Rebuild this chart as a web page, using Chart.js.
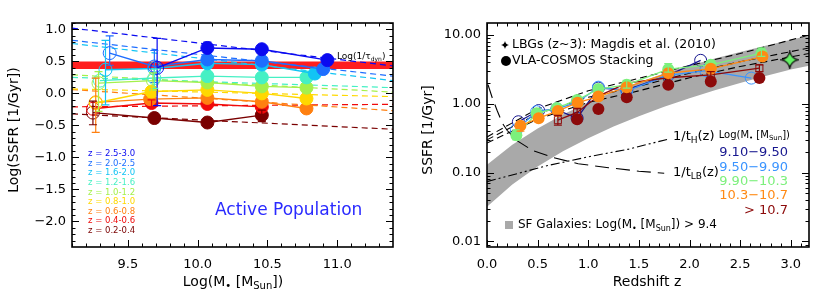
<!DOCTYPE html>
<html>
<head>
<meta charset="utf-8">
<script src="https://cdn.jsdelivr.net/npm/chart.js@4.4.1/dist/chart.umd.min.js"></script>
<style>
  html, body { margin: 0; padding: 0; background: #fff; }
  #wrap { position: relative; width: 830px; height: 294px; }
  .panel { position: absolute; top: 0; width: 415px; height: 294px; }
</style>
</head>
<body>
<div id="wrap">
  <div class="panel" style="left:0"><canvas id="left" width="415" height="294"></canvas></div>
  <div class="panel" style="left:415px"><canvas id="right" width="415" height="294"></canvas></div>
</div>
<script>
const FONT = "'DejaVu Sans', sans-serif";

// ---------------------------------------------------------------------------
// Left panel: Log SSFR vs Log stellar mass, one series per redshift bin
// (index 0 = highest redshift)
// ---------------------------------------------------------------------------
const Z_LABELS = ['z = 2.5-3.0', 'z = 2.0-2.5', 'z = 1.6-2.0', 'z = 1.2-1.6', 'z = 1.0-1.2',
                  'z = 0.8-1.0', 'z = 0.6-0.8', 'z = 0.4-0.6', 'z = 0.2-0.4'];
const Z_COLORS = ['#0a0af0', '#1e6eff', '#12c4f4', '#46f0c4', '#a4f04c',
                  '#ffd800', '#ff8010', '#f00a0a', '#7a0000'];

const LOGM = [
  [9.71, 10.07, 10.46, 10.93],
  [9.37, 9.69, 10.07, 10.46, 10.90],
  [9.34, 9.69, 10.07, 10.46, 10.84],
  [9.30, 9.69, 10.07, 10.46, 10.78],
  [9.29, 9.68, 10.07, 10.46, 10.78],
  [9.27, 9.67, 10.07, 10.46, 10.78],
  [9.27, 9.66, 10.07, 10.46, 10.78],
  [9.25, 9.67, 10.07, 10.46],
  [9.25, 9.69, 10.07, 10.46],
];
const LOG_SSFR = [
  [0.40, 0.71, 0.69, 0.52],
  [0.63, 0.42, 0.53, 0.51, 0.38],
  [0.37, 0.39, 0.47, 0.45, 0.31],
  [0.20, 0.24, 0.27, 0.25, 0.25],
  [0.16, 0.20, 0.17, 0.11, 0.09],
  [-0.15, 0.03, 0.055, 0.0, -0.08],
  [-0.14, -0.09, -0.07, -0.13, -0.235],
  [-0.24, -0.15, -0.165, -0.21],
  [-0.30, -0.385, -0.455, -0.34],
];
// how many of the low-mass points in each bin are drawn as open circles
const OPEN_UPTO = [1, 2, 2, 2, 2, 1, 1, 1, 1];

// dashed fits: value at the left and right end of the mass range
const FIT_LOW  = [1.02, 0.83, 0.78, 0.25, 0.29, 0.07, 0.06, -0.21, -0.32];
const FIT_HIGH = [0.43, 0.27, 0.20, 0.09, 0.02, -0.05, -0.27, -0.17, -0.56];

// error bars: [bin, logM, low, high]
const ERR_LEFT = [
  [0, 9.71, -0.19, 0.86], [0, 10.07, 0.64, 0.80],
  [1, 9.37, 0.44, 0.90], [1, 9.69, 0.17, 0.67],
  [2, 9.34, -0.18, 0.83],
  [3, 9.69, 0.08, 0.38],
  [4, 9.29, -0.28, 0.34], [4, 9.68, 0.05, 0.32],
  [5, 9.67, -0.06, 0.10],
  [6, 9.27, -0.61, 0.24],
  [7, 9.67, -0.22, -0.10],
  [8, 9.25, -0.49, -0.12], [8, 10.46, -0.44, -0.26],
];

// Log(1/tau_dyn) band
const TAU_DYN = [0.38, 0.50];

const X_RANGE_L = [9.1, 11.4];
const Y_RANGE_L = [-2.4, 1.1];
const X_MAJOR_L = [9.5, 10.0, 10.5, 11.0];
const Y_MAJOR_L = [-2.0, -1.5, -1.0, -0.5, 0.0, 0.5, 1.0];

// ---------------------------------------------------------------------------
// Right panel: SSFR vs redshift, one series per mass bin
// ---------------------------------------------------------------------------
const MASS_LABELS = ['9.10\u22129.50', '9.50\u22129.90', '9.90\u221210.3', '10.3\u221210.7', '> 10.7'];
const MASS_COLORS = ['#17178f', '#3a94ff', '#7cf07c', '#ff8a14', '#8c0a0a'];

const Z_NAVY    = [0.31, 0.51, 0.69, 0.89, 1.10, 1.38, 1.79, 2.11];
const SSFR_NAVY = [0.55, 0.80, 0.82, 0.62, 1.70, 1.60, 2.60, 4.30];
const Z_AZURE    = [0.29, 0.49, 0.69, 0.89, 1.10, 1.38, 1.79, 2.16, 2.61];
const SSFR_AZURE = [0.42, 0.77, 0.85, 1.05, 1.75, 1.55, 2.60, 3.05, 2.37];
const Z_GREEN    = [0.29, 0.49, 0.69, 0.89, 1.10, 1.38, 1.79, 2.21, 2.71];
const SSFR_GREEN = [0.35, 0.73, 0.87, 1.14, 1.64, 1.89, 3.20, 3.70, 5.47];
const Z_ORANGE    = [0.33, 0.51, 0.70, 0.895, 1.10, 1.38, 1.79, 2.21, 2.72];
const SSFR_ORANGE = [0.48, 0.62, 0.79, 1.04, 1.28, 1.75, 2.80, 3.23, 4.88];
const Z_DKRED    = [0.89, 1.10, 1.38, 1.79, 2.21, 2.69];
const SSFR_DKRED = [0.60, 0.84, 1.25, 1.89, 2.11, 2.37];
const Z_DKRED_SQ    = [0.70, 0.89, 1.10, 1.38, 1.79, 2.21, 2.69];
const SSFR_DKRED_SQ = [0.58, 0.75, 1.30, 2.00, 2.40, 2.64, 3.30];
const SQ_SHOWN      = [1, 1, 0, 0, 0, 1, 1];

const LBG_Z = [2.99];
const LBG_SSFR = [4.37];

// SF galaxies band (Log M > 9.4)
const BAND_Z  = [0, 0.25, 0.5, 0.75, 1.0, 1.25, 1.5, 1.75, 2.0, 2.25, 2.5, 2.75, 3.0, 3.18];
const BAND_HI = [0.13, 0.255, 0.44, 0.70, 1.05, 1.5, 2.07, 2.76, 3.59, 4.58, 5.7, 7.0, 8.55, 9.8];
const BAND_LO = [0.032, 0.067, 0.123, 0.204, 0.317, 0.468, 0.663, 0.91, 1.21, 1.58, 2.02, 2.54, 3.15, 3.6];

// black dashed fits
const DASH_Z = [0, 0.5, 1.0, 1.5, 2.0, 2.5, 3.18];
const DASH_A = [0.33, 0.85, 1.55, 2.35, 3.6, 5.4, 10.0];
const DASH_B = [0.30, 0.72, 1.25, 1.80, 2.8, 4.1, 6.5];
const DASH_C = [0.27, 0.60, 1.05, 1.55, 2.4, 3.5, 5.4];

// 1/t_H(z) and 1/t_LB(z)
const TH_Z  = [0, 0.3, 0.6, 1.0, 1.4, 1.8];
const TH_V  = [0.074, 0.097, 0.127, 0.17, 0.22, 0.31];
const TLB_Z = [0.01, 0.05, 0.1, 0.15, 0.2, 0.3, 0.45, 0.66, 0.9, 1.2, 1.5, 1.75];
const TLB_V = [1.9, 1.25, 0.8, 0.53, 0.41, 0.29, 0.21, 0.165, 0.135, 0.118, 0.105, 0.098];

// error bars: [mass bin, z, low, high]
const ERR_RIGHT = [
  [2, 0.29, 0.30, 0.42], [3, 0.33, 0.40, 0.55],
  [2, 1.38, 1.70, 2.20], [2, 1.79, 2.90, 3.85], [2, 2.71, 4.90, 6.50],
  [4, 0.70, 0.49, 0.68], [4, 0.89, 0.66, 0.86], [4, 2.21, 2.35, 2.95], [4, 2.69, 2.95, 3.70],
];

const X_RANGE_R = [0, 3.18];
const Y_RANGE_R = [0.0083, 15];
const X_MAJOR_R = [0.0, 0.5, 1.0, 1.5, 2.0, 2.5, 3.0];
const Y_MAJOR_R = [0.01, 0.1, 1, 10];

// ---------------------------------------------------------------------------
// helpers
// ---------------------------------------------------------------------------
function steps(from, to, step) {
  const out = [];
  for (let v = from; v <= to + 1e-9; v += step) out.push(+v.toFixed(4));
  return out;
}

function logMinor(lo, hi) {
  const out = [];
  for (let k = -3; k <= 2; k++) {
    for (let m = 2; m <= 9; m++) {
      const v = m * Math.pow(10, k);
      if (v >= lo && v <= hi) out.push(v);
    }
  }
  return out;
}

const pts = (xs, ys) => xs.map((x, i) => ({ x, y: ys[i] }));
const CLEAR = 'rgba(255,255,255,0)';

// text with subscripts: parts = [[text, isSub], ...]
function richText(ctx, parts, x, y, size, color, align) {
  ctx.save();
  const fontFor = sub => `${sub ? Math.round(size * 0.68) : size}px ${FONT}`;
  let w = 0;
  parts.forEach(([t, sub]) => { ctx.font = fontFor(sub); w += ctx.measureText(t).width; });
  let cx = align === 'center' ? x - w / 2 : align === 'right' ? x - w : x;
  ctx.fillStyle = color;
  ctx.textBaseline = 'middle';
  ctx.textAlign = 'left';
  parts.forEach(([t, sub]) => {
    ctx.font = fontFor(sub);
    ctx.fillText(t, cx, y + (sub ? size * 0.3 : 0));
    cx += ctx.measureText(t).width;
  });
  ctx.restore();
}

function makeStar(size, fill, stroke) {
  const c = document.createElement('canvas');
  c.width = c.height = size;
  const g = c.getContext('2d');
  const m = size / 2, r = size / 2 - 1, k = size * 0.07;
  g.beginPath();
  g.moveTo(m, m - r);
  g.quadraticCurveTo(m + k, m - k, m + r, m);
  g.quadraticCurveTo(m + k, m + k, m, m + r);
  g.quadraticCurveTo(m - k, m + k, m - r, m);
  g.quadraticCurveTo(m - k, m - k, m, m - r);
  g.closePath();
  g.fillStyle = fill;
  g.fill();
  if (stroke) { g.lineWidth = 1.2; g.strokeStyle = stroke; g.stroke(); }
  return c;
}

// box frame with inward ticks on all four sides
const framePlugin = {
  id: 'frame',
  afterDatasetsDraw(chart, args, opts) {
    const { ctx, chartArea: a } = chart;
    const x = chart.scales.x, y = chart.scales.y;
    ctx.save();
    ctx.strokeStyle = '#000';
    ctx.lineWidth = 1;
    const seg = (x1, y1, x2, y2) => { ctx.beginPath(); ctx.moveTo(x1, y1); ctx.lineTo(x2, y2); ctx.stroke(); };
    const xt = (vals, len) => vals.forEach(v => {
      const p = Math.round(x.getPixelForValue(v)) + 0.5;
      if (p < a.left || p > a.right) return;
      seg(p, a.bottom, p, a.bottom - len);
      seg(p, a.top, p, a.top + len);
    });
    const yt = (vals, len) => vals.forEach(v => {
      const p = Math.round(y.getPixelForValue(v)) + 0.5;
      if (p < a.top || p > a.bottom) return;
      seg(a.left, p, a.left + len, p);
      seg(a.right, p, a.right - len, p);
    });
    xt(opts.xMinor, 3.5); xt(opts.xMajor, 7);
    yt(opts.yMinor, 3.5); yt(opts.yMajor, 7);
    ctx.lineWidth = 1.6;
    ctx.strokeRect(a.left, a.top, a.right - a.left, a.bottom - a.top);
    ctx.restore();
  }
};

// vertical error bars with caps
const errorPlugin = {
  id: 'errbars',
  afterDatasetsDraw(chart, args, opts) {
    const { ctx } = chart;
    const x = chart.scales.x, y = chart.scales.y;
    ctx.save();
    ctx.lineWidth = 1.2;
    opts.bars.forEach(([b, xv, lo, hi]) => {
      const px = x.getPixelForValue(xv), p1 = y.getPixelForValue(lo), p2 = y.getPixelForValue(hi);
      ctx.strokeStyle = opts.colors[b];
      ctx.beginPath();
      ctx.moveTo(px, p1); ctx.lineTo(px, p2);
      ctx.moveTo(px - 4, p1); ctx.lineTo(px + 4, p1);
      ctx.moveTo(px - 4, p2); ctx.lineTo(px + 4, p2);
      ctx.stroke();
    });
    ctx.restore();
  }
};

function axis(type, range, major, fmt, fit, padding) {
  return {
    type,
    min: range[0],
    max: range[1],
    afterBuildTicks: s => { s.ticks = major.map(v => ({ value: v })); },
    afterFit: fit,
    grid: { display: false, drawTicks: false },
    border: { display: false },
    ticks: { callback: v => fmt(v), font: { family: FONT, size: 13 }, color: '#000', padding, maxRotation: 0, autoSkip: false, includeBounds: false },
  };
}

Chart.defaults.font.family = FONT;
Chart.defaults.animation = false;

const MSTAR_TITLE = [['Log(M', 0], ['\u2022', 1], [' [M', 0], ['Sun', 1], ['])', 0]];

// ---------------------------------------------------------------------------
// left chart
// ---------------------------------------------------------------------------
const leftData = [];
leftData.push({
  data: pts(X_RANGE_L, [TAU_DYN[1], TAU_DYN[1]]), showLine: true,
  borderColor: CLEAR, pointRadius: 0, order: 90,
});
leftData.push({
  data: pts(X_RANGE_L, [TAU_DYN[0], TAU_DYN[0]]), showLine: true,
  borderColor: CLEAR, pointRadius: 0, fill: '-1', backgroundColor: '#ff1e1e', order: 89,
});
Z_COLORS.forEach((c, b) => {
  leftData.push({
    data: pts(X_RANGE_L, [FIT_LOW[b], FIT_HIGH[b]]), showLine: true,
    borderColor: c, borderWidth: 1.2, borderDash: [6, 4], pointRadius: 0, order: 40 + b,
  });
  leftData.push({
    data: pts(LOGM[b], LOG_SSFR[b]), showLine: true,
    borderColor: c, borderWidth: 1.4,
    pointRadius: 6.5, pointBorderWidth: 1, pointBorderColor: c,
    pointBackgroundColor: LOGM[b].map((m, i) => i < OPEN_UPTO[b] ? CLEAR : c),
    order: 1 + b,
  });
});

new Chart(document.getElementById('left'), {
  type: 'scatter',
  data: { datasets: leftData },
  options: {
    responsive: false,
    animation: false,
    layout: { padding: { top: 23, right: 22, left: 0, bottom: 0 } },
    plugins: {
      legend: { display: false },
      tooltip: { enabled: false },
      frame: {
        xMajor: X_MAJOR_L, xMinor: steps(9.1, 11.4, 0.1),
        yMajor: Y_MAJOR_L, yMinor: steps(-2.4, 1.1, 0.1),
      },
      errbars: { bars: ERR_LEFT, colors: Z_COLORS },
    },
    scales: {
      x: axis('linear', X_RANGE_L, X_MAJOR_L, v => v.toFixed(1), s => { s.height = 47; }, 10),
      y: axis('linear', Y_RANGE_L, Y_MAJOR_L,
        v => (v < -1e-9 ? '\u2212' : '') + Math.abs(v).toFixed(1), s => { s.width = 72; }, 6),
    },
  },
  plugins: [errorPlugin, framePlugin, {
    id: 'leftText',
    afterDraw(chart) {
      const ctx = chart.ctx;
      ctx.save();
      ctx.translate(14, 130);
      ctx.rotate(-Math.PI / 2);
      richText(ctx, [['Log(SSFR [1/Gyr])', 0]], 0, 0, 14, '#000', 'center');
      ctx.restore();
      richText(ctx, MSTAR_TITLE, 233, 282, 14, '#000', 'center');
      Z_LABELS.forEach((t, i) => richText(ctx, [[t, 0]], 88, 154 + i * 9.6, 8.5, Z_COLORS[i], 'left'));
      richText(ctx, [['Active Population', 0]], 215, 211, 17, '#2a2aff', 'left');
      richText(ctx, [['Log(1/\u03c4', 0], ['dyn', 1], [')', 0]], 337, 57, 9, '#000', 'left');
    },
  }],
});

// ---------------------------------------------------------------------------
// right chart
// ---------------------------------------------------------------------------
const starBig = makeStar(19, '#66f266', '#000');
const starSmall = makeStar(10, '#000', null);

const openLine = (xs, ys, c, order) => ({
  data: pts(xs, ys), showLine: true, borderColor: c, borderWidth: 1.3,
  pointRadius: 6, pointBorderWidth: 1, pointBorderColor: c, pointBackgroundColor: CLEAR, order,
});
const filledLine = (xs, ys, c, order) => ({
  data: pts(xs, ys), showLine: true, borderColor: c, borderWidth: 1.3,
  pointRadius: 6, pointBorderWidth: 0, pointBackgroundColor: c, order,
});

const rightData = [
  { data: pts(BAND_Z, BAND_HI), showLine: true, borderColor: CLEAR, pointRadius: 0, order: 90 },
  { data: pts(BAND_Z, BAND_LO), showLine: true, borderColor: CLEAR, pointRadius: 0,
    fill: '-1', backgroundColor: '#a9a9a9', order: 89 },
  ...[DASH_A, DASH_B, DASH_C].map(v => ({
    data: pts(DASH_Z, v), showLine: true, borderColor: '#000', borderWidth: 1.1,
    borderDash: [7, 4], pointRadius: 0, order: 50,
  })),
  { data: pts(TH_Z, TH_V), showLine: true, borderColor: '#000', borderWidth: 1.1,
    borderDash: [9, 3, 2, 3, 2, 3], pointRadius: 0, order: 51 },
  { data: pts(TLB_Z, TLB_V), showLine: true, borderColor: '#000', borderWidth: 1.1,
    borderDash: [14, 7], pointRadius: 0, order: 52 },
  openLine(Z_NAVY, SSFR_NAVY, MASS_COLORS[0], 6),
  openLine(Z_AZURE, SSFR_AZURE, MASS_COLORS[1], 5),
  filledLine(Z_GREEN, SSFR_GREEN, MASS_COLORS[2], 2),
  filledLine(Z_ORANGE, SSFR_ORANGE, MASS_COLORS[3], 1),
  { data: pts(Z_DKRED_SQ, SSFR_DKRED_SQ), showLine: true, borderColor: MASS_COLORS[4], borderWidth: 1.3,
    pointStyle: 'rect', pointRadius: SQ_SHOWN.map(s => s ? 5 : 0), pointBorderWidth: 1,
    pointBorderColor: MASS_COLORS[4], pointBackgroundColor: CLEAR, order: 4 },
  { data: pts(Z_DKRED, SSFR_DKRED), showLine: false, pointRadius: 6, pointBorderWidth: 0,
    pointBackgroundColor: MASS_COLORS[4], order: 3 },
  { data: pts(LBG_Z, LBG_SSFR), showLine: false, pointStyle: starBig, pointRadius: 9, order: 0 },
];

new Chart(document.getElementById('right'), {
  type: 'scatter',
  data: { datasets: rightData },
  options: {
    responsive: false,
    animation: false,
    layout: { padding: { top: 23, right: 21, left: 0, bottom: 0 } },
    plugins: {
      legend: { display: false },
      tooltip: { enabled: false },
      frame: {
        xMajor: X_MAJOR_R, xMinor: steps(0, 3.1, 0.1),
        yMajor: Y_MAJOR_R, yMinor: logMinor(Y_RANGE_R[0], Y_RANGE_R[1]),
      },
      errbars: { bars: ERR_RIGHT, colors: MASS_COLORS },
    },
    scales: {
      x: axis('linear', X_RANGE_R, X_MAJOR_R, v => v.toFixed(1), s => { s.height = 47; }, 10),
      y: axis('logarithmic', Y_RANGE_R, Y_MAJOR_R, v => v.toFixed(2), s => { s.width = 72; }, 6),
    },
  },
  plugins: [errorPlugin, framePlugin, {
    id: 'rightText',
    afterDraw(chart) {
      const ctx = chart.ctx;
      ctx.save();
      ctx.translate(13, 130);
      ctx.rotate(-Math.PI / 2);
      richText(ctx, [['SSFR [1/Gyr]', 0]], 0, 0, 14, '#000', 'center');
      ctx.restore();
      richText(ctx, [['Redshift z', 0]], 232, 282, 14, '#000', 'center');

      // source legend
      ctx.drawImage(starSmall, 85, 40);
      richText(ctx, [['LBGs (z~3): Magdis et al. (2010)', 0]], 97, 45, 12.5, '#000', 'left');
      ctx.beginPath();
      ctx.arc(91, 61, 5, 0, Math.PI * 2);
      ctx.fillStyle = '#000';
      ctx.fill();
      richText(ctx, [['VLA-COSMOS Stacking', 0]], 97, 61, 12.5, '#000', 'left');

      richText(ctx, [['1/t', 0], ['H', 1], ['(z)', 0]], 258, 137, 13, '#000', 'left');
      richText(ctx, [['1/t', 0], ['LB', 1], ['(z)', 0]], 258, 173, 13, '#000', 'left');

      // mass legend
      richText(ctx, MSTAR_TITLE, 375, 135, 10, '#000', 'right');
      const ys = [153, 167.5, 182, 196, 210.5];
      MASS_LABELS.forEach((t, i) => richText(ctx, [[t, 0]], 373, ys[i], 13, MASS_COLORS[i], 'right'));

      // SF galaxies key
      ctx.fillStyle = '#a9a9a9';
      ctx.fillRect(90, 221, 8, 8);
      richText(ctx, [['SF Galaxies: Log(M', 0], ['\u2022', 1], [' [M', 0], ['Sun', 1], [']) > 9.4', 0]],
        103, 225, 12, '#000', 'left');
    },
  }],
});
</script>
</body>
</html>
